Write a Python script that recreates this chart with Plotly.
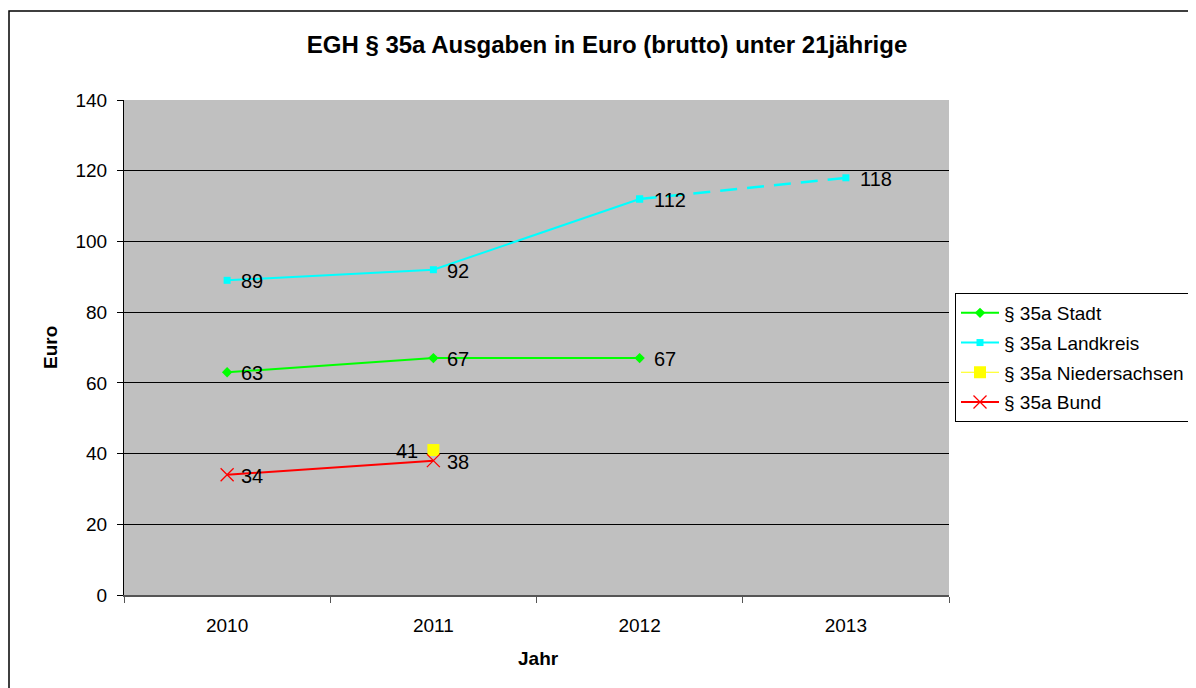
import plotly.graph_objects as go

years = ["2010", "2011", "2012", "2013"]
xpos = [0, 1, 2, 3]
stadt = [63, 67, 67]
landkreis = [89, 92, 112, 118]
nds = [None, 41]
bund = [34, 38]
yticks = [0, 20, 40, 60, 80, 100, 120, 140]

FONT = "Liberation Sans, Arial, sans-serif"
OFF = 8  # browser body margin
W, H = 1196, 688 - OFF
L, R, T, B = 124 - OFF, 949 - OFF, 100 - OFF, 595 - OFF
LBL = 20

fig = go.Figure()


def add_labels(xs, ys, side="right", skip=()):
    for i, (xv, yv) in enumerate(zip(xs, ys)):
        if yv is None or i in skip:
            continue
        fig.add_annotation(
            x=xv, y=yv, text=str(yv), showarrow=False,
            xanchor="left" if side == "right" else "right", yanchor="middle",
            xshift=12 if side == "right" else -13, yshift=-1,
            font=dict(size=LBL, color="black", family=FONT))


fig.add_trace(go.Scatter(
    x=xpos[:3], y=stadt, name="§ 35a Stadt", mode="lines+markers", legendgroup="a",
    line=dict(color="#00FF00", width=2),
    marker=dict(symbol="diamond", size=8, color="#00FF00")))
add_labels(xpos[:3], stadt)

fig.add_trace(go.Scatter(
    x=xpos[:3], y=landkreis[:3], name="§ 35a Landkreis", mode="lines+markers", legendgroup="b",
    line=dict(color="#00FFFF", width=2),
    marker=dict(symbol="square", size=7, color="#00FFFF")))
fig.add_trace(go.Scatter(
    x=xpos[2:4], y=landkreis[2:4], name="§ 35a Landkreis", mode="lines+markers",
    showlegend=False, legendgroup="b",
    line=dict(color="#00FFFF", width=2.5, dash="17px,10px"),
    marker=dict(symbol="square", size=7, color="#00FFFF")))
add_labels(xpos, landkreis)

fig.add_trace(go.Scatter(
    x=xpos[:2], y=nds, name="§ 35a Niedersachsen", mode="lines+markers", legendgroup="c",
    line=dict(color="#FFFF00", width=1),
    marker=dict(symbol="square", size=12, color="#FFFF00")))
add_labels(xpos[:2], nds, side="left")

fig.add_trace(go.Scatter(
    x=xpos[:2], y=bund, name="§ 35a Bund", mode="lines+markers", legendgroup="d",
    line=dict(color="#FF0000", width=2),
    marker=dict(symbol="x-thin", size=13, color="#FF0000",
                line=dict(color="#FF0000", width=1.3))))
add_labels(xpos[:2], bund)

px = lambda p: (p - OFF - L) / (R - L)
py = lambda p: (B - (p - OFF)) / (B - T)

fig.add_shape(type="rect", xref="paper", yref="paper",
              x0=px(9), x1=px(1300), y0=py(800), y1=py(11),
              line=dict(color="black", width=1.5), fillcolor="rgba(0,0,0,0)", layer="below")

fig.add_annotation(text="<b>Jahr</b>", xref="paper", yref="paper",
                   x=px(538), y=py(658), xanchor="center", yanchor="middle",
                   showarrow=False, font=dict(size=19, family=FONT, color="black"))
fig.add_annotation(text="<b>Euro</b>", xref="paper", yref="paper",
                   x=px(50), y=py(348), xanchor="center", yanchor="middle", textangle=-90,
                   showarrow=False, font=dict(size=19, family=FONT, color="black"))

fig.update_layout(
    width=W, height=H,
    margin=dict(l=L, r=W - R, t=T, b=H - B, pad=0),
    paper_bgcolor="white", plot_bgcolor="#C0C0C0",
    font=dict(family=FONT, size=19, color="black"),
    title=dict(text="<b>EGH § 35a Ausgaben in Euro (brutto) unter 21jährige</b>",
               x=(607 - OFF) / W, xanchor="center", y=1 - (45 - OFF) / H, yanchor="middle",
               font=dict(size=24, family=FONT, color="black")),
    xaxis=dict(range=[-0.5, 3.5], tickvals=xpos, ticktext=years,
               showgrid=False, zeroline=False, ticks="", ticklen=0,
               showline=True, linecolor="#555555", linewidth=2,
               tickfont=dict(size=19), fixedrange=True, ticklabelstandoff=12,
               minor=dict(tick0=-0.5, dtick=1, ticks="outside", ticklen=6,
                          tickcolor="#555555", showgrid=False)),
    yaxis=dict(range=[0, 140], tickvals=yticks, showgrid=True, gridcolor="black",
               gridwidth=1, zeroline=False, showline=True, linecolor="black",
               linewidth=1, ticks="outside", ticklen=6, tickcolor="black",
               tickfont=dict(size=19), ticklabelstandoff=6),
    legend=dict(x=px(955), y=py(293), xanchor="left", yanchor="top",
                bordercolor="black", borderwidth=1, bgcolor="white",
                font=dict(size=19, family=FONT), tracegroupgap=2, itemwidth=38),
    showlegend=True,
)

fig.write_html("out.html")
